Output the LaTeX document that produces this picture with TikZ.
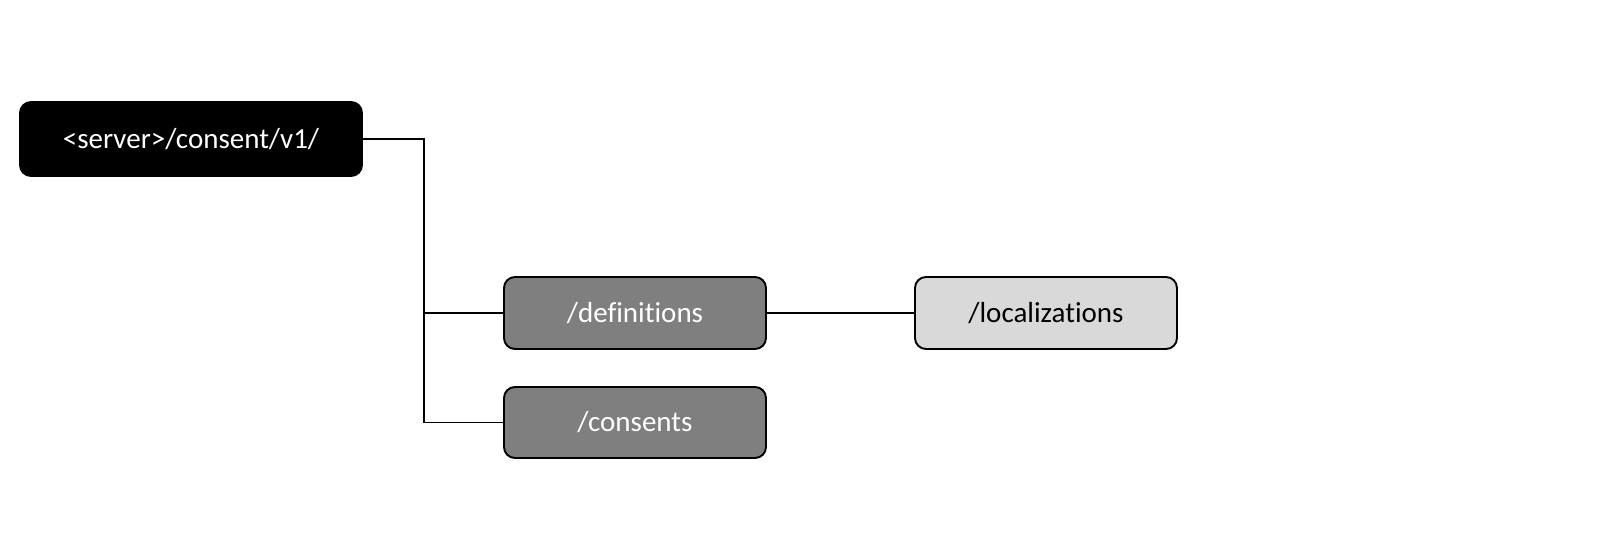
\documentclass[tikz,border=0pt]{standalone}
\usepackage{fontspec}
\setmainfont[Ligatures=NoCommon]{Carlito}
\definecolor{midgray}{HTML}{7F7F7F}
\definecolor{lightgray}{HTML}{D9D9D9}
\begin{document}
\begin{tikzpicture}[x=1pt,y=-1pt,
  box/.style={draw=black,line width=1.9pt,rounded corners=11pt,minimum height=72pt,inner sep=0pt,font=\fontsize{29}{34}\selectfont},
  rootbox/.style={box,fill=black,text=white,minimum width=342pt,minimum height=74pt},
  midbox/.style={box,fill=midgray,text=white,minimum width=262pt},
  leafbox/.style={box,fill=lightgray,text=black,minimum width=262pt},
  conn/.style={draw=black,line width=1.9pt}]
\useasboundingbox (0,0) rectangle (1618,538);
\node[rootbox] (root) at (191,139) {<server>/consent/v1/};
\node[midbox] (defs) at (635,313) {/definitions};
\node[midbox,minimum height=71pt] (cons) at (635,422.5) {/consents};
\node[leafbox] (loc) at (1046,313) {/localizations};
\coordinate (jt) at (424,139);
\draw[conn] (root.east) -- (jt) |- (cons.west);
\draw[conn] (jt |- defs.west) -- (defs.west);
\draw[conn] (defs.east) -- (loc.west);
\end{tikzpicture}
\end{document}
